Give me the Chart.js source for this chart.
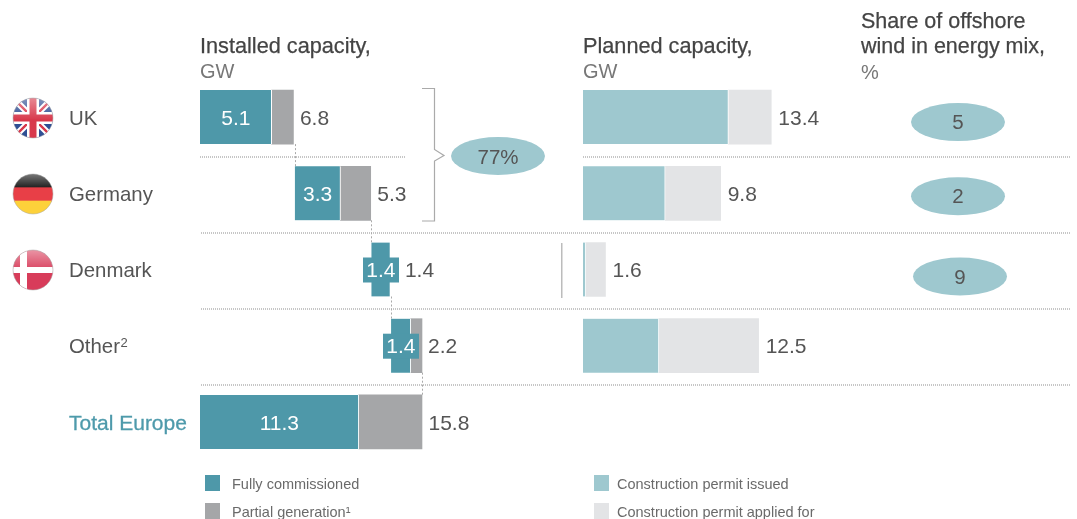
<!DOCTYPE html>
<html>
<head>
<meta charset="utf-8">
<style>html,body{margin:0;padding:0;background:#fff}canvas{display:block}</style>
<script src="https://cdn.jsdelivr.net/npm/chart.js@4/dist/chart.umd.js"></script>
</head>
<body>
<canvas id="c" width="1077" height="519"></canvas>
<script>
const categories = ['UK', 'Germany', 'Denmark', 'Other', 'Total Europe'];
const installedStart = [0, 6.75, 12.2, 13.6, 0];
const fullEnd = [5.1, 10.0, 13.55, 15.0, 11.3];
const installedEnd = [6.65, 12.15, 13.55, 15.8, 15.8];
const fullLabels = ['5.1', '3.3', '1.4', '1.4', '11.3'];
const installedLabels = ['6.8', '5.3', '1.4', '2.2', '15.8'];
const permitIssued = [10.35, 5.85, 0.2, 5.4, null];
const plannedTotal = [13.4, 9.8, 1.6, 12.5, null];
const energyShare = [5, 2, 9];
const shareOfTwo = '77%';

const FONT = '"Liberation Sans", Arial, sans-serif';
const TEAL = '#4e98a9', GREY = '#a5a6a8', LTEAL = '#9ec8cf', LGREY = '#e3e4e6';
const PX_PER_GW = 14.05;

const floatFull = installedStart.map((s, i) => [s, fullEnd[i]]);
const floatPartial = installedEnd.map((e, i) => e > fullEnd[i] ? [fullEnd[i], e] : null);
const floatIssued = permitIssued.map(v => v === null ? null : [0, v]);
const floatApplied = permitIssued.map((v, i) => v === null ? null : [v, plannedTotal[i]]);

function text(ctx, s, x, y, size, color, align, stroke) {
  ctx.font = size + 'px ' + FONT;
  ctx.fillStyle = color;
  ctx.textAlign = align || 'left';
  ctx.textBaseline = 'middle';
  ctx.fillText(s, x, y);
  if (stroke) {
    ctx.strokeStyle = color; ctx.lineWidth = stroke; ctx.setLineDash([]);
    ctx.strokeText(s, x, y);
  }
}
function ellipse(ctx, x, y) {
  ctx.fillStyle = LTEAL;
  ctx.beginPath();
  ctx.ellipse(x, y, 47, 19, 0, 0, Math.PI * 2);
  ctx.fill();
}
function flag(ctx, cy, kind) {
  const cx = 33, r = 20;
  ctx.save();
  ctx.beginPath(); ctx.arc(cx, cy, r, 0, Math.PI * 2); ctx.clip();
  const L = cx - r, T = cy - r, S = 2 * r;
  let glossEnd = cy + 1, glossTop = 0.5;
  if (kind === 'UK') {
    ctx.fillStyle = '#2f4f94'; ctx.fillRect(L, T, S, S);
    ctx.strokeStyle = '#fff'; ctx.lineWidth = 6.5;
    ctx.beginPath(); ctx.moveTo(L, T); ctx.lineTo(L + S, T + S); ctx.moveTo(L + S, T); ctx.lineTo(L, T + S); ctx.stroke();
    ctx.strokeStyle = '#d8394c'; ctx.lineWidth = 2.4;
    ctx.beginPath(); ctx.moveTo(L, T); ctx.lineTo(L + S, T + S); ctx.moveTo(L + S, T); ctx.lineTo(L, T + S); ctx.stroke();
    ctx.fillStyle = '#fff'; ctx.fillRect(cx - 6, T, 12, S); ctx.fillRect(L, cy - 6, S, 12);
    ctx.fillStyle = '#d8394c'; ctx.fillRect(cx - 3.5, T, 7, S); ctx.fillRect(L, cy - 3.5, S, 7);
    glossTop = 0.4;
  } else if (kind === 'DE') {
    ctx.fillStyle = '#1e1e1e'; ctx.fillRect(L, T, S, S / 3 + 1);
    ctx.fillStyle = '#e83f47'; ctx.fillRect(L, T + S / 3, S, S / 3 + 1);
    ctx.fillStyle = '#fdd13a'; ctx.fillRect(L, T + 2 * S / 3, S, S / 3);
    glossEnd = T + S / 3;
    glossTop = 0.4;
  } else {
    ctx.fillStyle = '#d83c5a'; ctx.fillRect(L, T, S, S);
    ctx.fillStyle = '#fff'; ctx.fillRect(cx - 13, T, 7, S); ctx.fillRect(L, cy - 3, S, 6);
    glossTop = 0.45;
  }
  const g = ctx.createLinearGradient(0, T, 0, glossEnd);
  g.addColorStop(0, 'rgba(255,255,255,' + glossTop + ')');
  g.addColorStop(1, 'rgba(255,255,255,0.02)');
  ctx.fillStyle = g; ctx.fillRect(L, T, S, glossEnd - T);
  ctx.restore();
  ctx.strokeStyle = 'rgba(170,170,170,0.5)'; ctx.lineWidth = 1;
  ctx.beginPath(); ctx.arc(cx, cy, r, 0, Math.PI * 2); ctx.stroke();
}

const decorations = {
  id: 'decorations',
  beforeDatasetsDraw(chart) {
    const ctx = chart.ctx, y = chart.scales.y, x = chart.scales.x;
    const rowY = i => y.getPixelForValue(i);
    ctx.save();
    // dotted row separators
    ctx.strokeStyle = '#c6c6c6'; ctx.lineWidth = 2; ctx.setLineDash([1, 1]);
    for (let i = 0; i < 4; i++) {
      const sy = Math.round((rowY(i) + rowY(i + 1)) / 2 + 1.5);
      ctx.beginPath();
      if (i === 0) {
        ctx.moveTo(200, sy); ctx.lineTo(406, sy);
        ctx.moveTo(583, sy); ctx.lineTo(1070, sy);
      } else {
        ctx.moveTo(201, sy); ctx.lineTo(1070, sy);
      }
      ctx.stroke();
    }
    // waterfall connectors
    ctx.strokeStyle = '#aaaaaa'; ctx.lineWidth = 1; ctx.setLineDash([2, 2]);
    for (let i = 0; i < 4; i++) {
      const next = i < 3 ? installedStart[i + 1] : installedEnd[3];
      const px = Math.round(x.getPixelForValue(next)) + 0.5;
      ctx.beginPath();
      ctx.moveTo(px, rowY(i) + 27);
      ctx.lineTo(px, rowY(i + 1) - 27);
      ctx.stroke();
    }
    ctx.restore();
  },
  afterDatasetsDraw(chart) {
    const ctx = chart.ctx, y = chart.scales.y;
    const rowY = i => y.getPixelForValue(i);
    ctx.save();
    // row labels
    categories.forEach((c, i) => {
      if (i === 4) text(ctx, c, 69, rowY(i) + 2.5, 21, '#4e9aab', 'left', 0.3);
      else text(ctx, c, 69, rowY(i) + 2, 20.4, '#555555');
      if (c === 'Other') text(ctx, '2', 120.5, rowY(i) - 2, 13, '#555555');
    });
    // value labels
    const full = chart.getDatasetMeta(0).data;
    categories.forEach((c, i) => {
      const el = full[i];
      const cx = (el.x + el.base) / 2, w = Math.abs(el.x - el.base);
      if (w < 36) {
        ctx.fillStyle = TEAL;
        ctx.fillRect(Math.round(cx - 18), rowY(i) - 12, 36, 25);
      }
      text(ctx, fullLabels[i], cx, rowY(i) + 2, 21, '#ffffff', 'center');
      const end = chart.scales.x.getPixelForValue(installedEnd[i]);
      const lx = w < 36 ? Math.max(end, cx + 18) + 6 : end + 6.5;
      text(ctx, installedLabels[i], lx, rowY(i) + 2, 21, '#555555');
      if (plannedTotal[i] !== null) {
        const pe = chart.scales.x2.getPixelForValue(plannedTotal[i]);
        text(ctx, plannedTotal[i].toFixed(1), pe + 7, rowY(i) + 2, 21, '#555555');
      }
    });
    // bracket and combined share
    ctx.strokeStyle = '#aaaaaa'; ctx.lineWidth = 1.2;
    ctx.beginPath();
    ctx.moveTo(422, 88.5); ctx.lineTo(434.5, 88.5); ctx.lineTo(434.5, 149.5); ctx.lineTo(444, 155.5);
    ctx.lineTo(434.5, 161); ctx.lineTo(434.5, 221); ctx.lineTo(422, 221);
    ctx.stroke();
    ellipse(ctx, 498, 156);
    text(ctx, shareOfTwo, 498, 158, 20.5, '#555555', 'center');
    // energy-mix share ellipses
    const offs = [5, 3, 7], ex = [958, 958, 960];
    energyShare.forEach((v, i) => {
      ellipse(ctx, ex[i], rowY(i) + offs[i]);
      text(ctx, String(v), ex[i], rowY(i) + offs[i] + 1.5, 20.5, '#555555', 'center');
    });
    // vertical rule before Denmark planned bar
    ctx.fillStyle = '#bcbcbc';
    ctx.fillRect(561, 243, 1.5, 55);
    // flags
    flag(ctx, 118, 'UK'); flag(ctx, 194, 'DE'); flag(ctx, 270, 'DK');
    // headings
    const H = '#444444', U = '#777777';
    text(ctx, 'Installed capacity,', 200, 47.5, 21.7, H, 'left', 0.25);
    text(ctx, 'GW', 200, 72, 20, U);
    text(ctx, 'Planned capacity,', 583, 47.5, 21.7, H, 'left', 0.25);
    text(ctx, 'GW', 583, 72, 20, U);
    text(ctx, 'Share of offshore', 861, 22.5, 21.5, H, 'left', 0.25);
    text(ctx, 'wind in energy mix,', 861, 47.5, 21.5, H, 'left', 0.25);
    text(ctx, '%', 861, 73, 20, U);
    // legend
    const items = [
      [205, 475, TEAL, 232, 'Fully commissioned'],
      [205, 503, GREY, 232, 'Partial generation¹'],
      [594, 475, LTEAL, 617, 'Construction permit issued'],
      [594, 503, LGREY, 617, 'Construction permit applied for']
    ];
    items.forEach(([sx, sy, col, tx, t]) => {
      ctx.fillStyle = col; ctx.fillRect(sx, sy, 15, 16);
      text(ctx, t, tx, sy + 10, 14.5, '#6a6a6a');
    });
    ctx.restore();
  }
};

function bar(label, data, color, axis, gap) {
  return {
    label, data, xAxisID: axis, backgroundColor: color,
    borderWidth: gap ? { right: 1 } : 0, borderColor: '#ffffff',
    borderSkipped: false, barThickness: 54, grouped: false
  };
}

new Chart(document.getElementById('c'), {
  type: 'bar',
  data: {
    labels: categories,
    datasets: [
      bar('Fully commissioned', floatFull, TEAL, 'x', true),
      bar('Partial generation', floatPartial, GREY, 'x', false),
      bar('Construction permit issued', floatIssued, LTEAL, 'x2', true),
      bar('Construction permit applied for', floatApplied, LGREY, 'x2', false)
    ]
  },
  options: {
    indexAxis: 'y',
    responsive: false,
    animation: false,
    layout: { padding: { left: 69, right: 0, top: 79, bottom: 59 } },
    plugins: { legend: { display: false }, tooltip: { enabled: false } },
    scales: {
      x: { display: false, min: 0, max: 877 / PX_PER_GW },
      x2: { display: false, min: -383 / PX_PER_GW, max: (877 - 383) / PX_PER_GW },
      y: {
        afterFit(s) { s.width = 131; },
        border: { display: false },
        grid: { display: false, drawTicks: false },
        ticks: { display: false }
      }
    }
  },
  plugins: [decorations]
});
</script>
</body>
</html>
